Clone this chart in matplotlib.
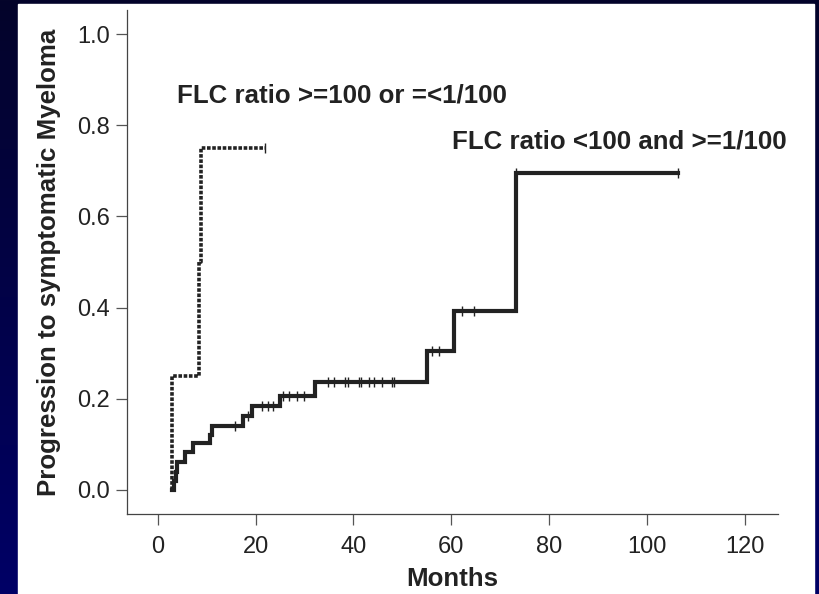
import numpy as np
from matplotlib import pyplot as plt
from matplotlib.patches import Rectangle
from matplotlib.colors import LinearSegmentedColormap

# Kaplan-Meier style cumulative progression curves
# high FLC ratio group (>=100 or =<1/100)
high_t = [3.0, 3.0, 8.5, 8.9]
high_y = [0.0, 0.25, 0.5, 0.75]
high_end = 21.9
high_cens = [21.9]

# low FLC ratio group (<100 and >=1/100)
low_t = [3.0, 3.3, 3.7, 4.0, 5.5, 7.2, 10.6, 11.0, 17.4, 19.2, 25.0, 32.1, 55.1, 60.5, 73.2]
low_y = [0.0, 0.02, 0.04, 0.062, 0.083, 0.102, 0.121, 0.141, 0.162, 0.183, 0.206, 0.237, 0.305, 0.392, 0.696]
low_end = 106.4
low_cens = [15.7, 18.4, 21.4, 22.6, 23.6, 25.6, 26.9, 28.5, 29.8, 34.7, 36.1, 38.2, 38.8,
            41.1, 41.5, 43.2, 44.2, 45.8, 47.8, 48.3, 56.1, 57.5, 62.2, 64.6, 73.2, 106.4]

xticks = [0, 20, 40, 60, 80, 100, 120]
yticks = [0.0, 0.2, 0.4, 0.6, 0.8, 1.0]

plt.rcParams['font.family'] = ['Liberation Sans', 'DejaVu Sans']

W, H = 819, 594
fig = plt.figure(figsize=(W / 100, H / 100), dpi=100)

# dark blue slide background
bg = fig.add_axes([0, 0, 1, 1], zorder=-10)
grad = np.linspace(0, 1, 256).reshape(-1, 1)
cm = LinearSegmentedColormap.from_list('bg', ['#04042a', '#000066'])
bg.imshow(grad, aspect='auto', cmap=cm, extent=[0, 1, 0, 1], origin='upper')
bg.add_patch(Rectangle((18 / W, 0), (814 - 18) / W, (H - 4) / H, color='white',
                       transform=bg.transAxes))
bg.set_xlim(0, 1)
bg.set_ylim(0, 1)
bg.axis('off')

ax = fig.add_axes([127 / W, 1 - 514 / H, (778 - 127) / W, (514 - 10) / H])
ax.patch.set_alpha(0)

def step_xy(t, y, end):
    xs = list(t) + [end]
    ys = list(y) + [y[-1]]
    return xs, ys

lc = '#222222'
xs, ys = step_xy(high_t, high_y, high_end)
ax.step(xs, ys, where='post', color=lc, lw=2.6, dashes=(1.0, 0.45), dash_capstyle='butt')
xs, ys = step_xy(low_t, low_y, low_end)
ax.step(xs, ys, where='post', color=lc, lw=3.0, solid_joinstyle='miter')

def level(t, y, c):
    i = np.searchsorted(t, c, side='right') - 1
    return y[max(i, 0)]

ax.plot(high_cens, [level(high_t, high_y, c) for c in high_cens], ls='none',
        marker='|', ms=7, mew=1.0, color=lc)
ax.plot(low_cens, [level(low_t, low_y, c) for c in low_cens], ls='none',
        marker='|', ms=7, mew=1.0, color=lc)

ax.text(3.9, 0.851, 'FLC ratio >=100 or =<1/100', fontsize=18.6, fontweight='bold',
        color='#222222', va='baseline', ha='left')
ax.text(60.1, 0.75, 'FLC ratio <100 and >=1/100', fontsize=18.6, fontweight='bold',
        color='#222222', va='baseline', ha='left')

ax.set_xlim(-6.3, 126.8)
ax.set_ylim(-0.053, 1.053)
ax.set_xticks(xticks)
ax.set_xticklabels([str(v) for v in xticks])
ax.set_yticks(yticks)
ax.set_yticklabels(['%.1f' % v for v in yticks])
for s in ['top', 'right']:
    ax.spines[s].set_visible(False)
for s in ['left', 'bottom']:
    ax.spines[s].set_color('#444444')
    ax.spines[s].set_linewidth(0.9)
ax.tick_params(direction='out', length=8, width=0.9, color='#555555',
               labelsize=17, labelcolor='#222222')
ax.tick_params(axis='x', pad=8)
ax.tick_params(axis='y', pad=4)

ax.set_xlabel('Months', fontsize=18.6, fontweight='bold', color='#222222', labelpad=6)
ax.set_ylabel('Progression to symptomatic Myeloma', fontsize=18.6, fontweight='bold',
              color='#222222', labelpad=12)

fig.savefig('out.png', dpi=100)
